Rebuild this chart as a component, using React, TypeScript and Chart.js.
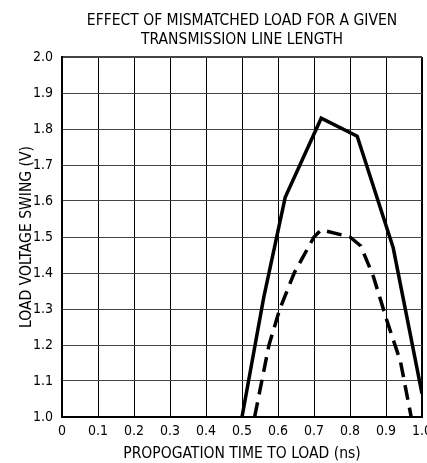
import React, { useEffect, useRef } from "react";
import { Chart, registerables } from "chart.js";

Chart.register(...registerables);

const titleLines = ["EFFECT OF MISMATCHED LOAD FOR A GIVEN", "TRANSMISSION LINE LENGTH"];
const xTitle = "PROPOGATION TIME TO LOAD (ns)";
const yTitle = "LOAD VOLTAGE SWING (V)";

const xTickLabels = ["0", "0.1", "0.2", "0.3", "0.4", "0.5", "0.6", "0.7", "0.8", "0.9", "1.0"];
const yTickLabels = ["1.0", "1.1", "1.2", "1.3", "1.4", "1.5", "1.6", "1.7", "1.8", "1.9", "2.0"];

// Solid curve: propagation time (ns) and load swing (V)
const solidTime = [0.5, 0.56, 0.62, 0.72, 0.82, 0.92, 1.0];
const solidSwing = [1.0, 1.33, 1.61, 1.83, 1.78, 1.47, 1.065];

// Dashed curve
const dashedTime = [0.535, 0.575, 0.605, 0.645, 0.7, 0.72, 0.8, 0.83, 0.865, 0.905, 0.94, 0.97];
const dashedSwing = [1.0, 1.2, 1.3, 1.4, 1.5, 1.52, 1.5, 1.475, 1.39, 1.26, 1.155, 1.0];

const FONT = '"Liberation Sans Narrow", "Arial Narrow", "DejaVu Sans Condensed", sans-serif';

const toPoints = (xs: number[], ys: number[]) => xs.map((x, i) => ({ x, y: ys[i] }));

export default function App() {
  const canvasRef = useRef<HTMLCanvasElement | null>(null);

  useEffect(() => {
    if (!canvasRef.current) return;
    const chart = new Chart(canvasRef.current, {
      type: "line",
      data: {
        datasets: [
          {
            data: toPoints(solidTime, solidSwing),
            borderColor: "#000",
            borderWidth: 3.5,
            pointRadius: 0,
            tension: 0,
            fill: false,
          },
          {
            data: toPoints(dashedTime, dashedSwing),
            borderColor: "#000",
            borderWidth: 3.5,
            borderDash: [15, 8],
            pointRadius: 0,
            tension: 0,
            fill: false,
          },
        ],
      },
      options: {
        animation: false,
        responsive: false,
        devicePixelRatio: 1,
        layout: { padding: { left: 0, right: 5, top: 0, bottom: 0 } },
        plugins: {
          legend: { display: false },
          tooltip: { enabled: false },
          title: {
            display: true,
            fullSize: false,
            text: titleLines,
            color: "#000",
            font: { family: FONT, size: 15.5, weight: "normal", lineHeight: "19px" },
            padding: { top: 11, bottom: 8 },
          },
        },
        scales: {
          x: {
            type: "linear",
            min: 0,
            max: 1,
            afterFit: (scale: any) => {
              scale.height = 46;
              scale.paddingRight = 0;
              scale.paddingLeft = 0;
            },
            ticks: {
              stepSize: 0.1,
              color: "#000",
              padding: 6,
              maxRotation: 0,
              autoSkip: false,
              font: { family: FONT, size: 14 },
              callback: (_v: any, i: number) => xTickLabels[i],
            },
            grid: {
              drawTicks: false,
              color: "#000",
              lineWidth: (ctx: any) => (ctx.tick && Math.abs(ctx.tick.value - 1) < 1e-6 ? 2 : 1),
            },
            border: { display: true, color: "#000", width: 2 },
            title: {
              display: true,
              text: xTitle,
              color: "#000",
              font: { family: FONT, size: 15.5 },
              padding: { top: 0, bottom: 0 },
            },
          },
          y: {
            type: "linear",
            min: 1,
            max: 2,
            afterFit: (scale: any) => {
              scale.width = 62;
            },
            ticks: {
              stepSize: 0.1,
              color: "#000",
              padding: 9,
              autoSkip: false,
              font: { family: FONT, size: 14 },
              callback: (_v: any, i: number) => yTickLabels[i],
            },
            grid: {
              drawTicks: false,
              color: "#444",
              lineWidth: (ctx: any) => (ctx.tick && Math.abs(ctx.tick.value - 2) < 1e-6 ? 2 : 1),
            },
            border: { display: true, color: "#000", width: 2 },
            title: {
              display: true,
              text: yTitle,
              color: "#000",
              font: { family: FONT, size: 15.5 },
              padding: { top: 18, bottom: 0 },
            },
          },
        },
      },
    });
    return () => chart.destroy();
  }, []);

  return (
    <div style={{ position: "absolute", left: 0, top: 0, width: 427, height: 463, background: "#fff" }}>
      <canvas ref={canvasRef} width={427} height={463} />
    </div>
  );
}
